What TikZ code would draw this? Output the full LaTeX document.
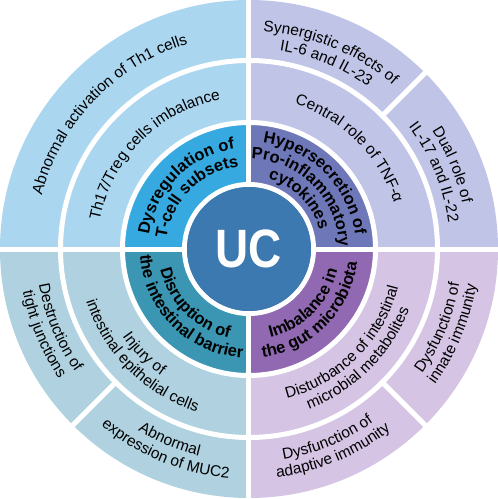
\documentclass[tikz,border=0pt]{standalone}
\usepackage{fontspec}
\usepackage{graphicx}
\setmainfont{Liberation Sans}
\usetikzlibrary{decorations.text}
\definecolor{tlout}{HTML}{AAD6F0}
\definecolor{tlin}{HTML}{36A9E0}
\definecolor{trout}{HTML}{C0C4E6}
\definecolor{trin}{HTML}{6E78B9}
\definecolor{blout}{HTML}{B0D2E0}
\definecolor{blin}{HTML}{3A96B2}
\definecolor{brout}{HTML}{D5C4E4}
\definecolor{brin}{HTML}{9169B2}
\definecolor{ucblue}{HTML}{3C79B0}
\tikzset{gap/.style={white,line width=5pt}}
\newcommand{\bigbf}{\bfseries\fontsize{16.5pt}{19pt}\selectfont}
% text on an arc: tops outward (upper half) / tops inward (lower half)
\newcommand{\uparc}[3]{\path[decorate,decoration={text along path,text align=center,text={#3}}] (#1+60:#2) arc[start angle=#1+60,end angle=#1-60,radius=#2];}
\newcommand{\downarc}[3]{\path[decorate,decoration={text along path,text align=center,text={#3}}] (#1-60:#2) arc[start angle=#1-60,end angle=#1+60,radius=#2];}
\begin{document}
\begin{tikzpicture}
\fontsize{15.5pt}{18pt}\selectfont
\useasboundingbox (-249pt,-250pt) rectangle (249pt,249pt);
\foreach \a/\co/\ci in {90/tlout/tlin,0/trout/trin,180/blout/blin,270/brout/brin}{
  \fill[\co] (0,0)--(\a:249pt) arc[start angle=\a,end angle=\a+90,radius=249pt]--cycle;
  \fill[\ci] (0,0)--(\a:126pt) arc[start angle=\a,end angle=\a+90,radius=126pt]--cycle;}
\foreach \r in {64.5,126.5,188.5} \draw[gap] (0,0) circle[radius=\r pt];
\foreach \a in {0,90,180,270} \draw[gap] (\a:60pt)--(\a:252pt);
\foreach \a in {45,225,-45} \draw[gap] (\a:186pt)--(\a:252pt);
\node[circle,fill=ucblue,minimum size=124pt,inner sep=0pt,text=white,font=\fontsize{54pt}{58pt}\selectfont\bfseries] (uc) at (0,0) {\scalebox{0.85}[1]{UC}};
% upper half
\uparc{136}{214pt}{Abnormal activation of Th1 cells}
\uparc{135}{152pt}{Th17/Treg cells imbalance}
\uparc{135}{101pt}{|\bigbf|Dysregulation of}
\uparc{135}{83pt}{|\bigbf|T-cell subsets}
\uparc{67.5}{218pt}{Synergistic effects of}
\uparc{67.5}{201pt}{IL-6 and IL-23}
\uparc{22.5}{218pt}{Dual role of}
\uparc{22.5}{201pt}{IL-17 and IL-22}
\uparc{45}{152pt}{Central role of TNF-α}
\uparc{45}{107pt}{|\bigbf|Hypersecretion of}
\uparc{45}{90pt}{|\bigbf|Pro-inflammatory}
\uparc{45}{73pt}{|\bigbf|cytokines}
% lower half
\downarc{225}{91pt}{|\bigbf|Disruption of}
\downarc{225}{109pt}{|\bigbf|the intestinal barrier}
\downarc{225}{154pt}{Injury of}
\downarc{225}{171pt}{intestinal epithelial cells}
\downarc{202.5}{213pt}{Destruction of}
\downarc{202.5}{230pt}{tight junctions}
\downarc{247.5}{213pt}{Abnormal}
\downarc{247.5}{230pt}{expression of MUC2}
\downarc{315}{91pt}{|\bigbf|Imbalance in}
\downarc{315}{109pt}{|\bigbf|the gut microbiota}
\downarc{315}{154pt}{Disturbance of intestinal}
\downarc{315}{171pt}{microbial metabolites}
\downarc{337.5}{213pt}{Dysfunction of}
\downarc{337.5}{230pt}{innate immunity}
\downarc{292.5}{213pt}{Dysfunction of}
\downarc{292.5}{230pt}{adaptive immunity}
\end{tikzpicture}
\end{document}
